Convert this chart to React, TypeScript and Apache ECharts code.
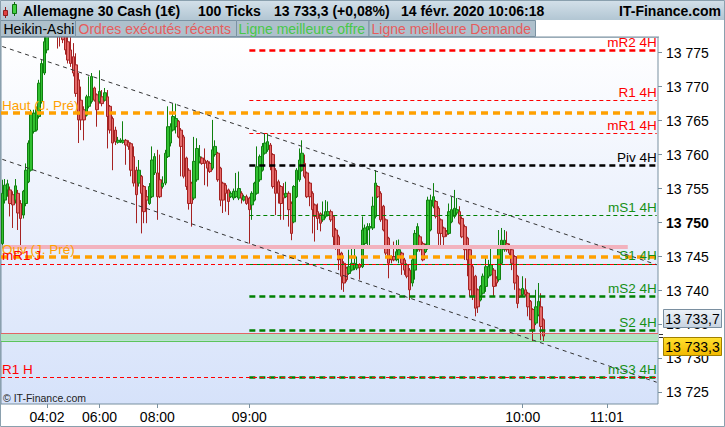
import { useEffect, useRef } from 'react';
import * as echarts from 'echarts';

const FONT = "'Liberation Sans', Arial, sans-serif";

// Heikin-Ashi candles: [open, close, low, high]
const candles: number[][] = [
  [13746.9, 13754.3, 13746.2, 13756.3], [13753.3, 13755.5, 13752.8, 13756.4], [13754.8, 13755.7, 13753.8, 13756.3],
  [13754.8, 13752.8, 13750.9, 13755.3], [13754.1, 13752.6, 13749.2, 13754.6], [13753.3, 13755.4, 13752.8, 13756.4],
  [13754.3, 13751.4, 13748.9, 13754.8], [13752.8, 13750.6, 13746.0, 13753.3], [13751.1, 13754.6, 13750.6, 13754.8],
  [13752.8, 13757.7, 13752.4, 13758.7], [13756.0, 13761.7, 13755.8, 13762.1], [13757.7, 13766.1, 13757.5, 13766.6],
  [13763.4, 13766.1, 13763.1, 13766.6], [13763.6, 13766.6, 13763.4, 13767.1], [13765.6, 13770.5, 13765.3, 13771.0],
  [13767.8, 13773.4, 13767.5, 13773.9], [13772.0, 13776.6, 13771.7, 13777.3], [13775.4, 13780.3, 13774.9, 13781.3],
  [13777.8, 13781.3, 13777.6, 13782.3], [13779.8, 13782.3, 13779.6, 13783.2], [13781.0, 13779.8, 13777.3, 13782.7],
  [13780.3, 13778.8, 13775.6, 13781.3], [13779.6, 13778.1, 13775.9, 13780.8], [13778.8, 13776.9, 13776.4, 13779.8],
  [13777.8, 13775.4, 13774.7, 13778.8], [13776.6, 13773.9, 13773.4, 13777.6], [13775.4, 13773.4, 13772.9, 13777.3],
  [13774.4, 13772.0, 13771.5, 13776.4], [13773.2, 13769.0, 13768.5, 13774.9], [13771.0, 13765.1, 13761.7, 13772.0],
  [13768.0, 13765.1, 13763.6, 13770.0], [13766.6, 13765.1, 13762.1, 13767.1], [13765.8, 13768.5, 13765.6, 13768.8],
  [13767.1, 13768.5, 13766.8, 13771.5], [13767.8, 13771.5, 13767.5, 13772.0], [13769.8, 13768.0, 13767.8, 13770.0],
  [13768.8, 13766.6, 13764.1, 13769.0], [13767.8, 13769.3, 13767.5, 13772.4], [13768.5, 13767.5, 13767.1, 13769.5],
  [13768.0, 13769.1, 13767.8, 13769.8], [13768.5, 13765.6, 13760.9, 13769.5], [13767.1, 13763.6, 13763.1, 13767.3],
  [13765.3, 13761.7, 13757.7, 13765.6], [13763.6, 13761.9, 13761.4, 13764.1], [13761.8, 13762.1, 13761.6, 13762.6],
  [13761.9, 13762.1, 13761.7, 13762.4], [13761.8, 13762.1, 13761.6, 13764.9], [13762.1, 13761.4, 13758.5, 13762.3],
  [13761.8, 13761.2, 13760.7, 13762.1], [13761.6, 13757.7, 13756.8, 13761.8], [13759.7, 13755.8, 13755.3, 13761.2],
  [13757.7, 13754.1, 13749.9, 13758.2], [13755.8, 13757.7, 13755.3, 13759.2], [13756.8, 13754.3, 13748.4, 13757.0],
  [13755.3, 13751.6, 13749.9, 13755.5], [13753.8, 13753.3, 13749.9, 13754.8], [13752.8, 13755.3, 13752.6, 13755.8],
  [13753.8, 13759.2, 13753.6, 13761.2], [13757.3, 13759.7, 13757.0, 13760.2], [13757.3, 13753.8, 13750.4, 13760.7],
  [13756.3, 13753.8, 13753.6, 13760.0], [13755.3, 13755.8, 13755.0, 13756.8], [13755.8, 13760.2, 13755.5, 13760.7],
  [13759.7, 13764.1, 13759.5, 13767.1], [13761.7, 13764.1, 13761.2, 13764.6], [13763.6, 13765.6, 13763.4, 13767.5],
  [13764.1, 13765.3, 13763.1, 13767.5], [13764.9, 13762.6, 13762.4, 13765.1], [13763.6, 13761.2, 13756.8, 13763.9],
  [13762.6, 13756.8, 13756.5, 13762.9], [13759.5, 13755.3, 13754.8, 13759.7], [13757.7, 13752.8, 13751.9, 13758.0],
  [13755.8, 13752.8, 13749.4, 13756.0], [13753.6, 13759.0, 13753.3, 13762.6], [13756.3, 13760.9, 13756.0, 13762.4],
  [13759.0, 13759.7, 13758.7, 13761.4], [13759.5, 13758.7, 13758.5, 13759.7], [13759.2, 13758.7, 13755.5, 13760.9],
  [13759.0, 13758.0, 13755.3, 13759.2], [13758.7, 13757.5, 13757.3, 13759.0], [13758.0, 13760.7, 13757.7, 13765.1],
  [13760.0, 13761.2, 13759.7, 13762.1], [13760.2, 13756.3, 13756.0, 13760.4], [13758.0, 13753.3, 13752.4, 13758.2],
  [13755.8, 13753.3, 13751.4, 13756.0], [13755.5, 13754.3, 13751.6, 13755.8], [13754.8, 13753.1, 13751.1, 13755.0],
  [13753.8, 13754.3, 13753.6, 13754.6], [13753.6, 13754.6, 13753.3, 13755.0], [13753.8, 13754.6, 13753.6, 13757.3],
  [13753.6, 13755.0, 13753.3, 13757.5], [13754.3, 13753.6, 13752.8, 13754.6], [13753.3, 13753.8, 13753.1, 13754.1],
  [13753.8, 13752.8, 13752.6, 13754.1], [13753.6, 13751.9, 13746.9, 13753.8], [13752.6, 13754.3, 13750.4, 13754.6],
  [13753.3, 13755.8, 13753.1, 13756.0], [13754.3, 13758.2, 13754.1, 13761.2], [13756.3, 13759.7, 13756.0, 13760.0],
  [13757.7, 13761.2, 13757.5, 13761.7], [13760.2, 13761.7, 13760.0, 13763.1], [13760.7, 13761.9, 13760.4, 13763.1],
  [13761.4, 13758.2, 13757.7, 13761.7], [13760.0, 13755.3, 13755.0, 13760.2], [13757.7, 13754.3, 13751.1, 13758.0],
  [13756.0, 13754.3, 13752.8, 13756.3], [13755.3, 13752.8, 13750.4, 13755.5], [13754.1, 13753.6, 13750.4, 13755.8],
  [13753.8, 13754.3, 13753.6, 13756.0], [13754.3, 13751.9, 13749.4, 13754.6], [13752.8, 13748.4, 13747.4, 13753.1],
  [13750.1, 13755.3, 13749.9, 13755.5], [13753.8, 13757.7, 13753.6, 13758.0], [13756.3, 13759.2, 13756.0, 13760.9],
  [13757.7, 13760.2, 13757.5, 13762.1], [13758.7, 13756.8, 13756.5, 13760.0], [13757.3, 13753.8, 13753.6, 13757.5],
  [13755.8, 13753.8, 13752.4, 13756.0], [13754.3, 13751.9, 13748.4, 13754.6], [13752.6, 13750.9, 13747.2, 13752.8],
  [13751.6, 13750.6, 13748.9, 13752.8], [13751.3, 13749.9, 13748.7, 13751.5], [13750.4, 13751.1, 13750.1, 13753.1],
  [13750.9, 13751.6, 13750.6, 13753.3], [13751.1, 13751.6, 13750.9, 13753.1], [13751.6, 13750.4, 13750.1, 13751.9],
  [13750.9, 13747.9, 13746.5, 13751.1], [13748.9, 13746.5, 13746.0, 13749.2], [13747.9, 13744.5, 13743.0, 13748.2],
  [13745.5, 13742.1, 13740.1, 13745.7], [13744.0, 13741.1, 13739.8, 13744.3], [13743.3, 13741.6, 13741.3, 13743.5],
  [13742.5, 13743.5, 13742.3, 13746.0], [13743.0, 13744.0, 13742.8, 13746.5], [13743.3, 13744.0, 13743.0, 13746.5],
  [13743.3, 13743.8, 13743.0, 13745.0], [13743.8, 13743.4, 13741.6, 13744.0], [13743.5, 13748.9, 13743.3, 13750.9],
  [13746.9, 13749.2, 13746.7, 13749.7], [13748.9, 13749.4, 13746.7, 13749.9], [13749.2, 13749.4, 13746.5, 13749.9],
  [13749.2, 13752.4, 13748.9, 13753.8], [13750.9, 13755.8, 13750.6, 13757.7], [13755.3, 13753.8, 13753.6, 13755.5],
  [13754.3, 13750.4, 13750.1, 13754.6], [13752.4, 13748.9, 13748.7, 13752.6], [13750.4, 13745.5, 13745.2, 13750.6],
  [13747.7, 13744.0, 13741.8, 13747.9], [13745.0, 13744.5, 13744.0, 13745.2], [13745.0, 13744.5, 13744.3, 13747.2],
  [13744.5, 13745.7, 13744.3, 13747.4], [13745.0, 13746.0, 13744.0, 13747.5], [13745.5, 13744.0, 13742.3, 13745.7],
  [13744.5, 13743.0, 13742.3, 13744.8], [13743.8, 13742.1, 13741.8, 13744.0], [13743.0, 13740.1, 13738.6, 13743.3],
  [13741.1, 13744.5, 13740.6, 13745.0], [13743.0, 13748.4, 13741.6, 13748.9], [13746.0, 13749.4, 13745.7, 13749.9],
  [13747.9, 13746.0, 13745.7, 13748.2], [13746.9, 13744.5, 13744.3, 13747.2], [13745.7, 13746.5, 13745.5, 13746.9],
  [13746.2, 13753.3, 13746.0, 13753.8], [13748.9, 13753.3, 13748.7, 13754.1], [13752.4, 13753.8, 13752.1, 13755.8],
  [13753.1, 13750.9, 13750.6, 13753.3], [13752.1, 13748.4, 13746.7, 13752.4], [13750.4, 13748.4, 13746.7, 13750.6],
  [13749.2, 13747.9, 13746.5, 13749.4], [13748.7, 13748.2, 13747.9, 13748.9], [13748.4, 13751.6, 13748.2, 13752.8],
  [13750.1, 13751.9, 13749.9, 13753.8], [13750.9, 13752.1, 13750.6, 13754.8], [13751.4, 13751.9, 13751.1, 13753.6],
  [13751.6, 13749.9, 13749.7, 13752.4], [13750.6, 13747.9, 13747.7, 13750.9], [13749.4, 13746.0, 13744.5, 13749.7],
  [13747.7, 13744.5, 13742.1, 13747.9], [13746.0, 13740.1, 13739.1, 13746.2], [13743.5, 13739.1, 13738.6, 13743.8],
  [13742.1, 13737.4, 13736.2, 13742.3], [13740.1, 13737.6, 13736.7, 13740.3], [13738.6, 13740.6, 13738.4, 13740.8],
  [13739.6, 13742.1, 13739.4, 13742.5], [13740.6, 13743.5, 13739.8, 13745.0], [13742.1, 13743.5, 13741.8, 13744.5],
  [13742.3, 13743.8, 13742.1, 13746.2], [13743.0, 13740.6, 13739.1, 13743.3], [13741.8, 13741.1, 13740.6, 13742.1],
  [13741.6, 13746.5, 13741.3, 13748.9], [13744.0, 13747.4, 13743.8, 13749.2], [13746.0, 13747.4, 13745.7, 13748.9],
  [13746.9, 13746.0, 13745.7, 13748.7], [13746.5, 13745.5, 13745.2, 13746.9], [13746.0, 13744.0, 13743.0, 13746.2],
  [13745.0, 13741.1, 13740.1, 13745.2], [13742.1, 13738.1, 13737.4, 13742.3], [13740.1, 13739.1, 13738.9, 13740.3],
  [13739.4, 13740.3, 13739.1, 13742.1], [13740.1, 13739.4, 13739.1, 13741.8], [13739.6, 13737.6, 13736.2, 13739.8],
  [13738.4, 13735.7, 13735.7, 13738.6], [13737.2, 13734.2, 13732.5, 13737.4], [13735.2, 13737.6, 13734.9, 13740.1],
  [13736.4, 13738.4, 13736.2, 13741.1], [13737.6, 13734.7, 13732.7, 13739.6], [13735.7, 13733.3, 13732.5, 13735.9],
];

const slotCount = 250;
const tickIndex = [17, 37, 59, 94, 198, 230];
const tickText = ['04:02', '06:00', '08:00', '09:00', '10:00', '11:01'];

const pivotNames = ['mR2 4H', 'R1 4H', 'mR1 4H', 'Piv 4H', 'mS1 4H', 'S1 4H', 'mS2 4H', 'S2 4H', 'mS3 4H'];
const pivotValues = [13775.3, 13768.0, 13763.15, 13758.4, 13751.1, 13743.9, 13739.1, 13734.1, 13727.2];
const pivotStart = 94;
const lineEnd = 249;

const dayNames = ['Haut (J. Pré)', 'Ouv (J. Pré)', 'mR1 J', 'R1 H'];
const dayValues = [13766.1, 13744.9, 13743.9, 13727.2];
const prevCloseValue = 13746.5;
const prevCloseEnd = 238;

const askValue = 13733.7;
const bidValue = 13732.6;

const trendUpper = [13775.9, 13743.8];
const trendLower = [13759.3, 13726.5];

const yMin = 13723.3;
const yMax = 13777.3;

const RED = '#ff0000';
const GREEN = '#008000';
const ORANGE = '#ffa000';

function pivotStyle(name: string) {
  const thick = ['mR2 4H', 'Piv 4H', 'mS2 4H', 'S2 4H', 'mS3 4H'].includes(name);
  let color = GREEN;
  if (name.startsWith('mR') || name.startsWith('R')) color = RED;
  if (name.startsWith('Piv')) color = '#000000';
  return { color, width: thick ? 2.5 : 1, type: thick ? [6, 4] : [4, 3] };
}

function fmtY(v: number) {
  if (Math.abs(v / 5 - Math.round(v / 5)) > 1e-6) return '';
  const s = '13 ' + String(Math.round(v) - 13000);
  return Math.round(v) === 13750 ? '{b|' + s + '}' : s;
}

export default function App() {
  const ref = useRef<HTMLDivElement>(null);
  useEffect(() => {
    document.body.style.margin = '0';
    const chart = echarts.init(ref.current!, null, { renderer: 'svg', width: 725, height: 427 });

    const categories = Array.from({ length: slotCount }, (_, i) => 's' + i);
    const tickFn = (i: number) => tickIndex.includes(i);

    const topLines: any[] = [];
    pivotNames.forEach((n, k) => {
      const st = pivotStyle(n);
      topLines.push([
        {
          coord: [pivotStart, pivotValues[k]],
          lineStyle: { color: st.color, width: st.width, type: st.type },
          label: {
            show: true, position: 'insideEndTop', formatter: n, color: st.color === GREEN ? '#169016' : st.color,
            fontSize: 13.5, fontFamily: FONT, distance: [0, 1],
          },
        },
        { coord: [lineEnd, pivotValues[k]] },
      ]);
    });
    dayNames.forEach((n, k) => {
      const orange = n.includes('Pré');
      const color = orange ? ORANGE : RED;
      topLines.push({
        yAxis: dayValues[k],
        lineStyle: { color, width: orange ? 3.5 : 1, type: orange ? [7, 5] : [4, 3] },
        label: { show: true, position: 'insideStartTop', formatter: n, color, fontSize: 13.5, fontFamily: FONT, distance: [1, 1] },
      });
    });
    topLines.push([
      { coord: [0, trendUpper[0]], lineStyle: { color: '#333', width: 1, type: [4, 4] }, label: { show: false } },
      { coord: [lineEnd, trendUpper[1]] },
    ]);
    topLines.push([
      { coord: [0, trendLower[0]], lineStyle: { color: '#333', width: 1, type: [4, 4] }, label: { show: false } },
      { coord: [lineEnd, trendLower[1]] },
    ]);

    const option: any = {
      animation: false,
      backgroundColor: '#ffffff',
      textStyle: { fontFamily: FONT },
      grid: {
        left: 1, right: 67, top: 37, bottom: 23, show: true,
        backgroundColor: new echarts.graphic.LinearGradient(0, 0, 0, 1, [
          { offset: 0, color: '#ffffff' }, { offset: 1, color: '#d6e2fa' },
        ]),
        borderColor: '#7890a0', borderWidth: 1,
      },
      xAxis: {
        type: 'category', data: categories, boundaryGap: true,
        axisLine: { show: false },
        axisTick: { show: true, alignWithLabel: true, interval: tickFn, length: 4, lineStyle: { color: '#7890a0' } },
        axisLabel: {
          interval: tickFn, fontSize: 14, color: '#000', fontFamily: FONT, margin: 6,
          formatter: (_v: string, i: number) => { const k = tickIndex.indexOf(i); return k >= 0 ? tickText[k] : ''; },
        },
        splitLine: { show: false },
      },
      yAxis: {
        type: 'value', position: 'right', min: yMin, max: yMax, scale: true,
        splitNumber: 11, minInterval: 5, maxInterval: 5,
        axisLine: { show: false },
        axisTick: { show: true, length: 4, lineStyle: { color: '#7890a0' } },
        splitLine: { show: false },
        axisLabel: {
          showMinLabel: false, showMaxLabel: false, fontSize: 14, color: '#000', fontFamily: FONT, margin: 8,
          formatter: fmtY, rich: { b: { fontWeight: 'bold', fontSize: 14, color: '#000', fontFamily: FONT } },
        },
      },
      series: [
        {
          type: 'line', data: [], z: 1, silent: true,
          markArea: {
            silent: true,
            itemStyle: { color: '#b1e2c3' },
            data: [[{ yAxis: askValue }, { yAxis: bidValue }]],
          },
          markLine: {
            silent: true, symbol: ['none', 'none'], animation: false,
            data: [
              [
                { coord: [0, prevCloseValue], lineStyle: { color: '#f2b2be', width: 4, type: 'solid' }, label: { show: false } },
                { coord: [prevCloseEnd, prevCloseValue] },
              ],
              { yAxis: askValue, lineStyle: { color: '#e26464', width: 1, type: 'solid' }, label: { show: false } },
              { yAxis: bidValue, lineStyle: { color: '#5cc45c', width: 1, type: 'solid' }, label: { show: false } },
            ],
          },
        },
        {
          type: 'candlestick', data: candles, z: 2, barWidth: 3, clip: true,
          itemStyle: { color: '#30c030', borderColor: '#0f800f', color0: '#e46a6a', borderColor0: '#a52222', borderWidth: 1 },
        },
        {
          type: 'line', data: [], z: 3, silent: true,
          markLine: { silent: true, symbol: ['none', 'none'], animation: false, data: topLines },
        },
      ],
      graphic: [
        // title bar
        { type: 'rect', z: 100, shape: { x: 0, y: 0, width: 725, height: 20 },
          style: { fill: new echarts.graphic.LinearGradient(0, 0, 0, 1, [{ offset: 0, color: '#d4e1ea' }, { offset: 1, color: '#b2c6d3' }]) } },
        { type: 'line', z: 101, shape: { x1: 5.5, y1: 7, x2: 5.5, y2: 18 }, style: { stroke: '#902020', lineWidth: 1 } },
        { type: 'rect', z: 101, shape: { x: 3.5, y: 10.5, width: 4, height: 5 }, style: { fill: '#e04040', stroke: '#902020', lineWidth: 1 } },
        { type: 'line', z: 101, shape: { x1: 14.5, y1: 2, x2: 14.5, y2: 16 }, style: { stroke: '#107010', lineWidth: 1 } },
        { type: 'rect', z: 101, shape: { x: 12.5, y: 4.5, width: 4, height: 9 }, style: { fill: '#40d040', stroke: '#107010', lineWidth: 1 } },
        ...[
          ['Allemagne 30 Cash (1€)', 23], ['100 Ticks', 198], ['13 733,3 (+0,08%)', 274], ['14 févr. 2020 10:06:18', 401],
        ].map(([t, x]) => ({
          type: 'text', z: 101, x: x as number, y: 10.5,
          style: { text: t as string, fontSize: 14, fontWeight: 'bold', fontFamily: FONT, fill: '#000', align: 'left', verticalAlign: 'middle', textAlign: 'left', textVerticalAlign: 'middle' },
        })),
        { type: 'text', z: 101, x: 721, y: 10.5,
          style: { text: 'IT-Finance.com', fontSize: 14, fontWeight: 'bold', fontFamily: FONT, fill: '#000', align: 'right', verticalAlign: 'middle', textAlign: 'right', textVerticalAlign: 'middle' } },
        // legend row
        { type: 'rect', z: 100, shape: { x: 0, y: 20, width: 725, height: 17 }, style: { fill: '#ffffff' } },
        { type: 'line', z: 101, shape: { x1: 0, y1: 37, x2: 659, y2: 37 }, style: { stroke: '#7890a0', lineWidth: 1 } },
        ...[
          [0, 75], [75, 161], [236, 132.5], [368.5, 166.5],
        ].map(([x, w]) => ({
          type: 'rect', z: 101, shape: { x: x + 0.5, y: 20.5, width: w, height: 16 },
          style: { fill: '#aec0cc', stroke: '#7a92a2', lineWidth: 1 },
        })),
        ...[
          ['Heikin-Ashi', 3.5, '#000000'], ['Ordres exécutés récents', 78.5, '#e65c5c'],
          ['Ligne meilleure offre', 238.5, '#48c848'], ['Ligne meilleure Demande', 371.5, '#e65c5c'],
        ].map(([t, x, c]) => ({
          type: 'text', z: 102, x: x as number, y: 29,
          style: { text: t as string, fontSize: 14, fontFamily: FONT, fill: c as string, align: 'left', verticalAlign: 'middle', textAlign: 'left', textVerticalAlign: 'middle' },
        })),
        // price boxes
        { type: 'line', z: 101, shape: { x1: 659, y1: 334.5, x2: 663, y2: 334.5 }, style: { stroke: '#333', lineWidth: 1 } },
        { type: 'line', z: 101, shape: { x1: 659, y1: 337.5, x2: 663, y2: 337.5 }, style: { stroke: '#333', lineWidth: 1 } },
        { type: 'rect', z: 101, shape: { x: 663.5, y: 309.5, width: 58, height: 18 },
          style: { fill: new echarts.graphic.LinearGradient(0, 0, 0, 1, [{ offset: 0, color: '#eef3f8' }, { offset: 1, color: '#c6d3e1' }]), stroke: '#7a8fa0', lineWidth: 1 } },
        { type: 'text', z: 102, x: 692.5, y: 318.5,
          style: { text: '13 733,7', fontSize: 14, fontFamily: FONT, fill: '#000', align: 'center', verticalAlign: 'middle', textAlign: 'center', textVerticalAlign: 'middle' } },
        { type: 'rect', z: 101, shape: { x: 663.5, y: 337.5, width: 58, height: 18 },
          style: { fill: new echarts.graphic.LinearGradient(0, 0, 0, 1, [{ offset: 0, color: '#ffe230' }, { offset: 1, color: '#f2b800' }]), stroke: '#a08000', lineWidth: 1 } },
        { type: 'text', z: 102, x: 692.5, y: 346.5,
          style: { text: '13 733,3', fontSize: 14, fontFamily: FONT, fill: '#000', align: 'center', verticalAlign: 'middle', textAlign: 'center', textVerticalAlign: 'middle' } },
        // copyright
        { type: 'text', z: 102, x: 3, y: 398,
          style: { text: '© IT-Finance.com', fontSize: 10.5, fontFamily: FONT, fill: '#222', align: 'left', verticalAlign: 'middle', textAlign: 'left', textVerticalAlign: 'middle' } },
        // outer frame
        { type: 'rect', z: 103, shape: { x: 0.5, y: 0.5, width: 724, height: 426 }, style: { fill: 'none', stroke: '#8aa0ae', lineWidth: 1 } },
      ],
    };
    chart.setOption(option);
    return () => chart.dispose();
  }, []);
  return <div ref={ref} style={{ position: 'absolute', left: 0, top: 0, width: 725, height: 427 }} />;
}
